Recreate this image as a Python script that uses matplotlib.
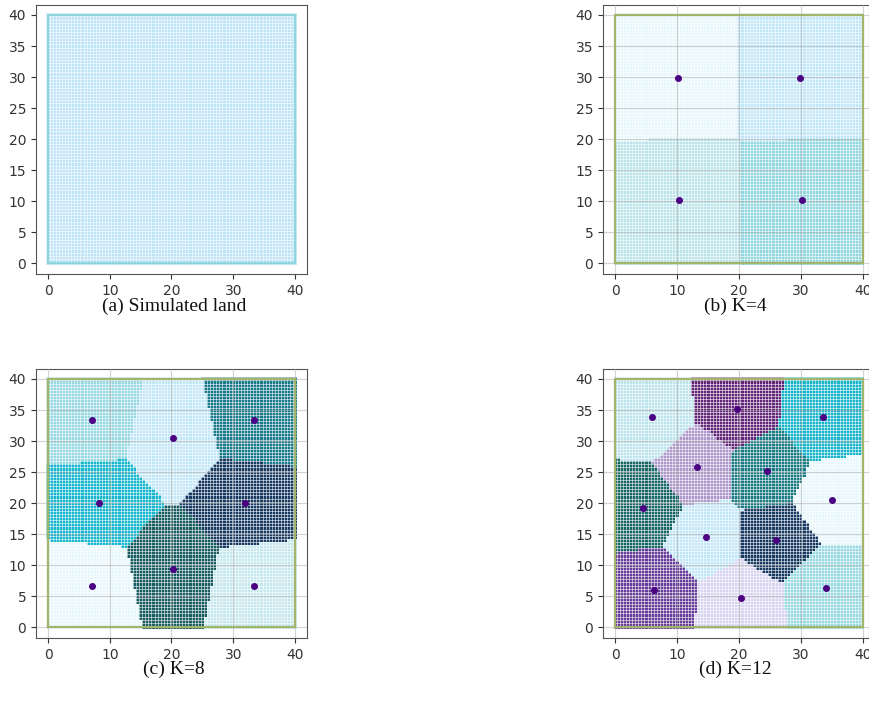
import numpy as np
import matplotlib
matplotlib.use("Agg")
import matplotlib.pyplot as plt
from matplotlib.colors import ListedColormap

# grid of land cells (0..40, step 0.5)
step = 0.5
xs = np.arange(0, 40 + step, step)

# centroids
cent_k4_x = [10.1, 29.8, 10.3, 30.2]
cent_k4_y = [29.9, 29.9, 10.2, 10.2]
col_k4 = ['#e8f7fb', '#c0e6f8', '#bae3ea', '#92d6df']

cent_k8_x = [7.1, 20.2, 33.3, 8.3, 31.9, 20.2, 7.1, 33.3]
cent_k8_y = [33.4, 30.5, 33.4, 20.0, 20.0, 9.4, 6.7, 6.7]
col_k8 = ['#98d8e2', '#c0e6f8', '#17798a', '#16b6cc',
          '#173a63', '#185b61', '#e8f7fb', '#c4e8ee']

cent_k12_x = [5.9, 19.7, 33.5, 13.2, 24.5, 4.5, 35.1, 14.7, 26.0, 6.3, 20.3, 34.1]
cent_k12_y = [33.8, 35.2, 33.8, 25.8, 25.2, 19.3, 20.5, 14.5, 14.1, 6.1, 4.7, 6.3]
col_k12 = ['#bde4ec', '#622578', '#18b4ca', '#ad97cb', '#1a7b84', '#186565',
           '#e8f7fb', '#c0e6f8', '#173a63', '#663c99', '#d6d4ee', '#98d9e2']

land_color = '#bfe4f8'
captions = ['(a) Simulated land', '(b) K=4', '(c) K=8', '(d) K=12']

gx, gy = np.meshgrid(xs, xs)

fig = plt.figure(figsize=(8.7, 7.13), dpi=100)
W, H = 870, 713


def make_ax(left, top, w, h):
    return fig.add_axes([left / W, 1 - (top + h) / H, w / W, h / H])


axes = [make_ax(36, 5, 271, 269), make_ax(603, 5, 266, 269),
        make_ax(36, 369, 271, 269), make_ax(603, 369, 266, 269)]


def draw_panel(ax, cx, cy, colors, border, grid=True):
    if cx is None:
        lab = np.zeros(gx.shape, dtype=int)
        cmap = ListedColormap([land_color])
        ncol = 1
    else:
        cx = np.array(cx)
        cy = np.array(cy)
        d = (gx[..., None] - cx) ** 2 + (gy[..., None] - cy) ** 2
        lab = d.argmin(axis=-1)
        cmap = ListedColormap(colors)
        ncol = len(colors)
    ax.pcolormesh(gx, gy, lab, cmap=cmap, vmin=-0.5, vmax=ncol - 0.5,
                  shading='nearest', zorder=1)
    # thin light gaps between the cells
    edges = np.append(xs - step / 2, xs[-1] + step / 2)
    lo, hi = edges[0], edges[-1]
    ax.vlines(edges, lo, hi, color='white', lw=0.6, alpha=0.65, zorder=1.2)
    ax.hlines(edges, lo, hi, color='white', lw=0.6, alpha=0.65, zorder=1.2)
    ax.plot([0, 40, 40, 0, 0], [0, 0, 40, 40, 0], color=border, lw=1.6, zorder=3)
    if cx is not None:
        ax.scatter(cx, cy, color='#4b0082', s=16, zorder=4)
    if grid:
        ax.grid(True, color='#b0b0b0', alpha=0.55, lw=0.8)
        ax.set_axisbelow(False)
    ax.set_xticks([0, 10, 20, 30, 40])
    ax.set_yticks([0, 5, 10, 15, 20, 25, 30, 35, 40])
    ax.tick_params(labelsize=10, colors='#333333')
    for sp in ax.spines.values():
        sp.set_color('#555555')
    ax.set_ylim(-1.7, 41.6)


draw_panel(axes[0], None, None, None, '#8fd5df', grid=False)
axes[0].set_xlim(-1.95, 41.95)
draw_panel(axes[1], cent_k4_x, cent_k4_y, col_k4, '#a3b56a')
axes[1].set_xlim(-1.95, 41.0)
draw_panel(axes[2], cent_k8_x, cent_k8_y, col_k8, '#a3b56a')
axes[2].set_xlim(-1.95, 41.95)
draw_panel(axes[3], cent_k12_x, cent_k12_y, col_k12, '#a3b56a')
axes[3].set_xlim(-1.95, 41.0)

cap_pos = [(174, 306), (735, 306), (174, 669), (735, 669)]
for txt, (px, py) in zip(captions, cap_pos):
    fig.text(px / W, 1 - py / H, txt, ha='center', va='center',
             fontsize=14, family='Liberation Serif', color='#111111')

fig.savefig('out.png', dpi=100)
